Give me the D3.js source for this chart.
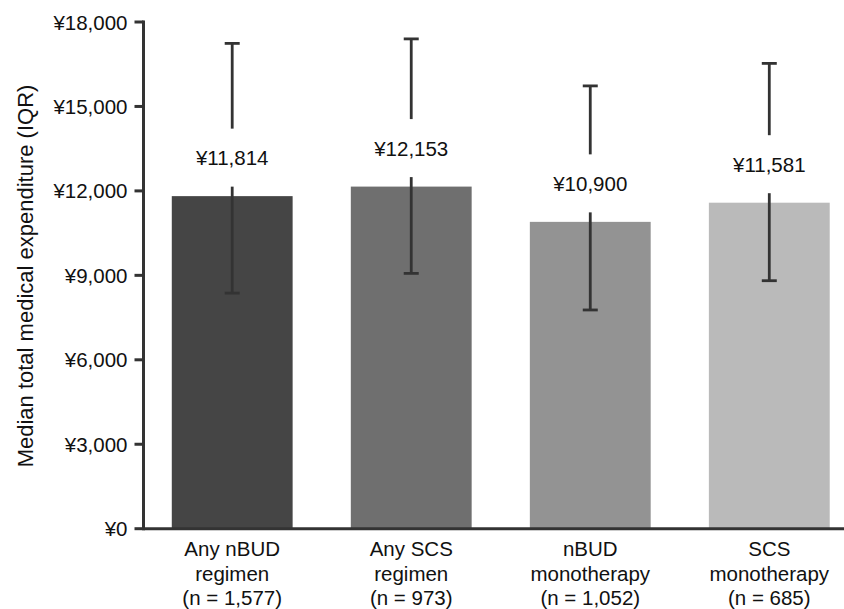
<!DOCTYPE html>
<html>
<head>
<meta charset="utf-8">
<script src="https://cdn.jsdelivr.net/npm/d3@7"></script>
<style>
  body { margin: 0; background: #fff; }
  text { font-family: "Liberation Sans", Arial, sans-serif; fill: #111; }
</style>
</head>
<body>
<div id="chart"></div>
<script>
// data
const groups = ['Any nBUD', 'Any SCS', 'nBUD', 'SCS'];
const groupLine2 = ['regimen', 'regimen', 'monotherapy', 'monotherapy'];
const groupN = ['(n = 1,577)', '(n = 973)', '(n = 1,052)', '(n = 685)'];
const medians = [11814, 12153, 10900, 11581];
const q1 = [8370, 9070, 7770, 8810];
const q3 = [17240, 17400, 15730, 16530];
const barColors = ['#454545', '#6f6f6f', '#939393', '#bababa'];
const yTicks = [0, 3000, 6000, 9000, 12000, 15000, 18000];

const width = 844, height = 609;
const plotLeft = 143.5, plotTop = 22, plotBottom = 528.7;

const svg = d3.select('#chart').append('svg')
    .attr('width', width)
    .attr('height', height);

const x = d3.scaleBand()
    .domain(groups)
    .range([plotLeft, 858])
    .paddingInner(0.325)
    .paddingOuter(0.158);

const y = d3.scaleLinear()
    .domain([0, 18000])
    .range([plotBottom, plotTop]);

const fmt = v => '¥' + d3.format(',')(v);

// bars
svg.selectAll('.bar').data(groups).enter().append('rect')
    .attr('x', d => x(d))
    .attr('y', (d, i) => y(medians[i]))
    .attr('width', x.bandwidth())
    .attr('height', (d, i) => plotBottom - y(medians[i]))
    .attr('fill', (d, i) => barColors[i]);

// error bars, broken around the value label
const ebColor = '#333';
const labelOffset = 38.5, gap = 29;
groups.forEach((g, i) => {
    let cx = x(g) + x.bandwidth() / 2;
    let ly = y(medians[i]) - labelOffset;
    let cap = 7.5;
    // upper part
    svg.append('line')
        .attr('x1', cx).attr('x2', cx)
        .attr('y1', y(q3[i])).attr('y2', ly - gap)
        .attr('stroke', ebColor).attr('stroke-width', 2.8);
    svg.append('line')
        .attr('x1', cx - cap).attr('x2', cx + cap)
        .attr('y1', y(q3[i])).attr('y2', y(q3[i]))
        .attr('stroke', ebColor).attr('stroke-width', 2.8);
    // lower part
    svg.append('line')
        .attr('x1', cx).attr('x2', cx)
        .attr('y1', ly + gap).attr('y2', y(q1[i]))
        .attr('stroke', ebColor).attr('stroke-width', 2.8);
    svg.append('line')
        .attr('x1', cx - cap).attr('x2', cx + cap)
        .attr('y1', y(q1[i])).attr('y2', y(q1[i]))
        .attr('stroke', ebColor).attr('stroke-width', 2.8);
    // value label
    svg.append('text')
        .text(fmt(medians[i]))
        .attr('x', cx)
        .attr('y', ly)
        .attr('text-anchor', 'middle')
        .attr('dominant-baseline', 'central')
        .style('font-size', '20.5px');
});

// y axis
svg.append('line')
    .attr('x1', plotLeft).attr('x2', plotLeft)
    .attr('y1', plotTop - 1.5).attr('y2', plotBottom + 1.5)
    .attr('stroke', '#333').attr('stroke-width', 3);
svg.selectAll('.ytick').data(yTicks).enter().append('line')
    .attr('x1', plotLeft - 9).attr('x2', plotLeft)
    .attr('y1', d => y(d)).attr('y2', d => y(d))
    .attr('stroke', '#333').attr('stroke-width', 3);
svg.selectAll('.ylabel').data(yTicks).enter().append('text')
    .text(d => fmt(d))
    .attr('x', plotLeft - 16)
    .attr('y', d => y(d))
    .attr('text-anchor', 'end')
    .attr('dominant-baseline', 'central')
    .style('font-size', '20.5px');

// x axis
svg.append('line')
    .attr('x1', plotLeft).attr('x2', width)
    .attr('y1', plotBottom).attr('y2', plotBottom)
    .attr('stroke', '#333').attr('stroke-width', 3);

// category labels
groups.forEach((g, i) => {
    let cx = x(g) + x.bandwidth() / 2;
    [g, groupLine2[i], groupN[i]].forEach((line, j) => {
        svg.append('text')
            .text(line)
            .attr('x', cx)
            .attr('y', 556 + j * 24.5)
            .attr('text-anchor', 'middle')
            .style('font-size', '20.5px');
    });
});

// y title
svg.append('text')
    .text('Median total medical expenditure (IQR)')
    .attr('transform', 'translate(33,' + ((80 + 472) / 2) + ') rotate(-90)')
    .attr('text-anchor', 'middle')
    .style('font-size', '22px');
</script>
</body>
</html>
